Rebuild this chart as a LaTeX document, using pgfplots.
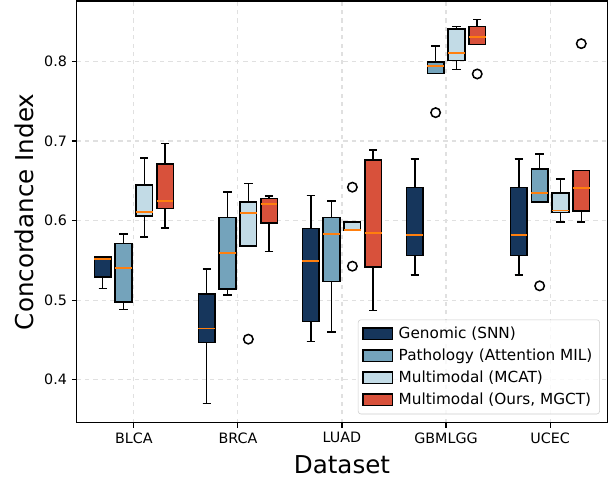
\documentclass[border=0pt]{standalone}
\usepackage{pgfplots}
\pgfplotsset{compat=1.18}
\usepgfplotslibrary{statistics}
\usetikzlibrary{calc}
\usepackage{fontspec}
\setmainfont{DejaVu Sans}
\definecolor{cgen}{HTML}{16365C}
\definecolor{cpat}{HTML}{74A3BB}
\definecolor{cmcat}{HTML}{C2DBE6}
\definecolor{cours}{HTML}{D8513B}
\definecolor{cmed}{HTML}{FF7F0E}
\pgfplotsset{mybox/.style={boxplot/draw direction=y, draw=black, line width=1.1pt, mark=o, mark size=3.4pt, mark options={draw=black, fill=none, line width=1.1pt}}}
\newcommand{\bx}[7]{\addplot[mybox, boxplot prepared={draw position=#1, lower whisker=#2, lower quartile=#3, median=#4, upper quartile=#5, upper whisker=#6}, fill=#7] coordinates {};}
\begin{document}
\begin{tikzpicture}
\begin{axis}[name=ax,
  scale only axis, width=382pt, height=303.6pt,
  xmin=-0.55, xmax=4.55, ymin=0.346, ymax=0.876,
  xtick={0,1,2,3,4}, xticklabels={BLCA,BRCA,LUAD,GBMLGG,UCEC},
  ytick={0.4,0.5,0.6,0.7,0.8},
  yticklabel style={/pgf/number format/fixed, /pgf/number format/fixed zerofill, /pgf/number format/precision=1},
  /pgf/number format/assume math mode=true,
  tick label style={font=\fontsize{10.3}{12}\selectfont},
  xtick pos=bottom, ytick pos=left, tick align=outside,
  major tick length=3.5pt, tick style={black, line width=0.8pt},
  axis line style={line width=0.9pt},
  grid=major, grid style={dashed, line width=0.8pt, color=black!12},
  xlabel={Dataset}, ylabel={Concordance Index},
  label style={font=\fontsize{17.7}{20}\selectfont},
  xlabel style={at={(axis description cs:0.5,-0.1003)}, anchor=center},
  ylabel style={at={(axis description cs:-0.0993,0.5)}, anchor=center},
  boxplot/box extend=0.16, boxplot/whisker extend=0.08,
  boxplot/every median/.style={draw=cmed, line width=1.3pt},
  boxplot/every whisker/.style={draw=black, line width=1.1pt},
  legend style={at={(0.986,0.02)}, anchor=south east, draw=black!20, rounded corners=2pt, fill=white, fill opacity=0.8, text opacity=1, font=\fontsize{11}{13}\selectfont, row sep=1.6pt, inner sep=3pt, nodes={inner sep=2.2pt}},
  legend cell align=left,
]
\pgfplotsset{legend image code/.code={\draw[#1, sharp corners, fill opacity=1] (0pt,-4.2pt) rectangle (21pt,4.2pt); \path (23pt,0pt);}}
\addlegendimage{fill=cgen, draw=black, line width=1pt}
\addlegendentry{Genomic (SNN)}
\addlegendimage{fill=cpat, draw=black, line width=1pt}
\addlegendentry{Pathology (Attention MIL)}
\addlegendimage{fill=cmcat, draw=black, line width=1pt}
\addlegendentry{Multimodal (MCAT)}
\addlegendimage{fill=cours, draw=black, line width=1pt}
\addlegendentry{Multimodal (Ours, MGCT)}
% BLCA
\bx{-0.3}{0.5146}{0.529}{0.552}{0.554}{0.555}{cgen}
\bx{-0.1}{0.488}{0.498}{0.5406}{0.571}{0.583}{cpat}
\bx{0.1}{0.5795}{0.606}{0.611}{0.645}{0.679}{cmcat}
\bx{0.3}{0.591}{0.615}{0.6247}{0.671}{0.697}{cours}
% BRCA
\bx{0.7}{0.370}{0.4467}{0.4643}{0.508}{0.539}{cgen}
\bx{0.9}{0.5067}{0.5138}{0.5594}{0.604}{0.636}{cpat}
\addplot[mybox, boxplot prepared={draw position=1.1, lower whisker=0.568, lower quartile=0.568, median=0.6097, upper quartile=0.6235, upper whisker=0.6465}, fill=cmcat] table[row sep=\\, y index=0] {v\\ 0.451\\};
\bx{1.3}{0.561}{0.5967}{0.621}{0.6276}{0.631}{cours}
% LUAD
\bx{1.7}{0.448}{0.473}{0.5497}{0.590}{0.6314}{cgen}
\bx{1.9}{0.46}{0.5234}{0.583}{0.604}{0.6247}{cpat}
\addplot[mybox, boxplot prepared={draw position=2.1, lower whisker=0.588, lower quartile=0.588, median=0.588, upper quartile=0.598, upper whisker=0.598}, fill=cmcat] table[row sep=\\, y index=0] {v\\ 0.642\\ 0.5427\\};
\bx{2.3}{0.487}{0.5415}{0.5845}{0.676}{0.689}{cours}
% GBMLGG
\bx{2.7}{0.5318}{0.556}{0.5824}{0.6414}{0.6775}{cgen}
\addplot[mybox, boxplot prepared={draw position=2.9, lower whisker=0.785, lower quartile=0.785, median=0.7947, upper quartile=0.7994, upper whisker=0.8195}, fill=cpat] table[row sep=\\, y index=0] {v\\ 0.7357\\};
\bx{3.1}{0.790}{0.8015}{0.8103}{0.8405}{0.8437}{cmcat}
\addplot[mybox, boxplot prepared={draw position=3.3, lower whisker=0.8216, lower quartile=0.8216, median=0.8311, upper quartile=0.8437, upper whisker=0.8525}, fill=cours] table[row sep=\\, y index=0] {v\\ 0.7843\\};
% UCEC
\bx{3.7}{0.5318}{0.556}{0.5824}{0.6414}{0.6775}{cgen}
\addplot[mybox, boxplot prepared={draw position=3.9, lower whisker=0.6235, lower quartile=0.6235, median=0.6344, upper quartile=0.665, upper whisker=0.6838}, fill=cpat] table[row sep=\\, y index=0] {v\\ 0.518\\};
\bx{4.1}{0.598}{0.610}{0.6126}{0.635}{0.652}{cmcat}
\addplot[mybox, boxplot prepared={draw position=4.3, lower whisker=0.5984, lower quartile=0.6118, median=0.6407, upper quartile=0.663, upper whisker=0.663}, fill=cours] table[row sep=\\, y index=0] {v\\ 0.8224\\};
\end{axis}
\pgfresetboundingbox
\path ($(ax.south west)+(-55.2pt,-41.3pt)$) rectangle ($(ax.north east)+(3.4pt,0.72pt)$);
\end{tikzpicture}
\end{document}
